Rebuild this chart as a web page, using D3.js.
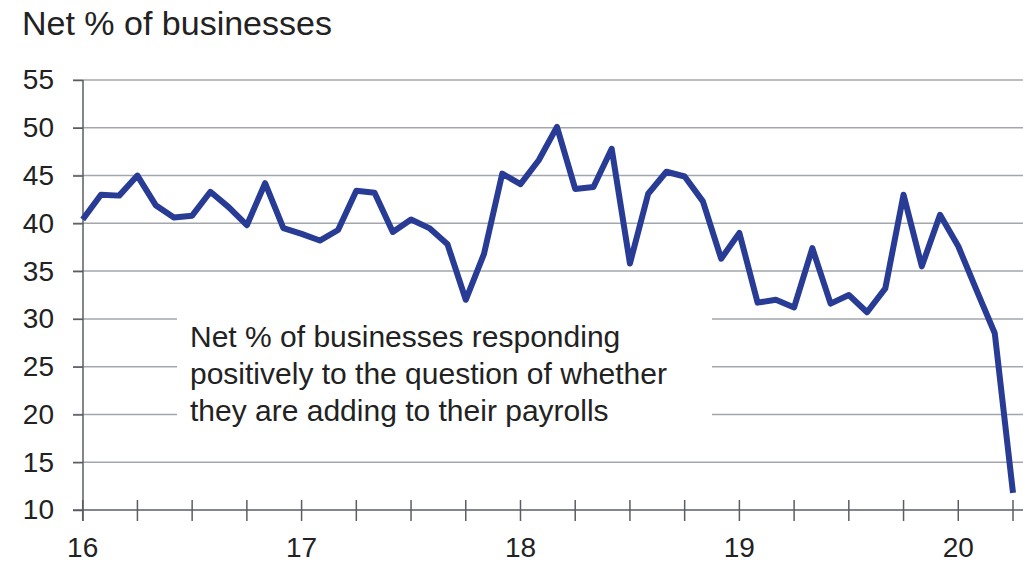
<!DOCTYPE html>
<html>
<head>
<meta charset="utf-8">
<script src="https://cdn.jsdelivr.net/npm/d3@7"></script>
<style>
  body { margin: 0; background: #fff; }
  svg { display: block; font-family: "Liberation Sans", Arial, sans-serif; }
</style>
</head>
<body>
<script>
// monthly data, Jan 2016 to Apr 2020
const startYear = 16;
const values = [
  40.4, 43.0, 42.9, 45.0, 41.9, 40.6, 40.8, 43.3, 41.7, 39.8, 44.2, 39.5,
  38.9, 38.2, 39.3, 43.4, 43.2, 39.1, 40.4, 39.5, 37.8, 32.0, 36.8, 45.2,
  44.1, 46.6, 50.1, 43.6, 43.8, 47.8, 35.8, 43.1, 45.4, 44.9, 42.3, 36.3,
  39.0, 31.7, 32.0, 31.2, 37.4, 31.6, 32.5, 30.7, 33.2, 43.0, 35.5, 40.9,
  37.6, 33.0, 28.5, 11.8
];
const yTicks = [10, 15, 20, 25, 30, 35, 40, 45, 50, 55];
const yearLabels = [16, 17, 18, 19, 20];
const quarterTicks = d3.range(16, 20.26, 0.25);
const title = "Net % of businesses";
const note = [
  "Net % of businesses responding",
  "positively to the question of whether",
  "they are adding to their payrolls"
];

const width = 1023, height = 562;
const svg = d3.select("body").append("svg")
  .attr("width", width)
  .attr("height", height);

const x = d3.scaleLinear().domain([16, 20.25]).range([82.7, 1013]);
const y = d3.scaleLinear().domain([10, 55]).range([510, 80]);

const data = values.map((v, i) => ({ t: startYear + i / 12, v }));

// gridlines
svg.append("g")
  .selectAll("line")
  .data(yTicks.filter(d => d > 10))
  .join("line")
  .attr("x1", 73).attr("x2", width)
  .attr("y1", d => y(d)).attr("y2", d => y(d))
  .style("stroke", "#a3a7ab")
  .style("stroke-width", 1.5);

// white box behind the note
svg.append("rect")
  .attr("x", 177).attr("y", 300)
  .attr("width", 712 - 177).attr("height", 140)
  .style("fill", "#fff");

// y axis
const yAxis = svg.append("g")
  .attr("transform", "translate(83,0)")
  .call(d3.axisLeft(y).tickValues(yTicks).tickSize(10).tickPadding(20));
yAxis.select(".domain").remove();
yAxis.selectAll("line").style("stroke", "#5a5e63").style("stroke-width", 1.5);
yAxis.selectAll("text")
  .style("font-size", "28px")
  .style("fill", "#222")
  .attr("x", -29);

svg.append("line")
  .attr("x1", 83).attr("x2", 83)
  .attr("y1", y(55)).attr("y2", 521)
  .style("stroke", "#5a5e63").style("stroke-width", 1.5);

// x axis
svg.append("line")
  .attr("x1", 73).attr("x2", width)
  .attr("y1", 510).attr("y2", 510)
  .style("stroke", "#5a5e63").style("stroke-width", 1.5);

svg.append("g")
  .selectAll("line")
  .data(quarterTicks)
  .join("line")
  .attr("x1", d => x(d)).attr("x2", d => x(d))
  .attr("y1", 500).attr("y2", 521)
  .style("stroke", "#5a5e63").style("stroke-width", 1.5);

svg.append("g")
  .selectAll("text")
  .data(yearLabels)
  .join("text")
  .attr("x", d => x(d))
  .attr("y", 557)
  .attr("text-anchor", "middle")
  .style("font-size", "28px")
  .style("fill", "#222")
  .text(d => d);

// series line
const line = d3.line().x(d => x(d.t)).y(d => y(d.v));
svg.append("path")
  .datum(data)
  .attr("d", line)
  .style("fill", "none")
  .style("stroke", "#283c96")
  .style("stroke-width", 6)
  .style("stroke-linejoin", "round");

// title
svg.append("text")
  .attr("x", 22).attr("y", 35)
  .style("font-size", "34px")
  .style("fill", "#222")
  .text(title);

// annotation
svg.append("g")
  .selectAll("text")
  .data(note)
  .join("text")
  .attr("x", 190)
  .attr("y", (d, i) => 347 + i * 37)
  .style("font-size", "30px")
  .style("fill", "#222")
  .text(d => d);
</script>
</body>
</html>
